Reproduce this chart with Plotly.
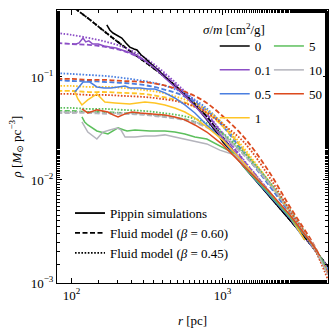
import plotly.graph_objects as go

# fluid model radii (pc)
r_model = [80, 100, 130, 170, 220, 300, 400, 550, 750, 1000, 1400, 2000, 2800, 4000, 5000]

# fluid model densities, beta = 0.60 (dashed) and beta = 0.45 (dotted)
m0_b60 = [0.625, 0.489, 0.366, 0.267, 0.200, 0.143, 0.1045, 0.0700, 0.0447, 0.0261, 0.0137, 0.00731, 0.00409, 0.00219, 0.00143]
m0_b45 = [0.625, 0.489, 0.366, 0.267, 0.200, 0.143, 0.1045, 0.0700, 0.0447, 0.0261, 0.0137, 0.00731, 0.00409, 0.00219, 0.00143]
m01_b60 = [0.214, 0.209, 0.205, 0.195, 0.179, 0.146, 0.109, 0.0714, 0.0468, 0.0280, 0.0150, 0.00800, 0.00428, 0.00219, 0.00140]
m01_b45 = [0.267, 0.256, 0.239, 0.219, 0.195, 0.156, 0.114, 0.0748, 0.0479, 0.0286, 0.0153, 0.00800, 0.00428, 0.00219, 0.00137]
m05_b60 = [0.0936, 0.0914, 0.0914, 0.0893, 0.0875, 0.0836, 0.0764, 0.0655, 0.0500, 0.0334, 0.0179, 0.00914, 0.00468, 0.00219, 0.00134]
m05_b45 = [0.109, 0.107, 0.1045, 0.102, 0.0977, 0.0914, 0.0836, 0.0700, 0.0522, 0.0350, 0.0187, 0.00957, 0.00479, 0.00224, 0.00134]
m1_b60 = [0.0731, 0.0731, 0.0714, 0.0714, 0.0700, 0.0684, 0.0640, 0.0571, 0.0468, 0.0334, 0.0191, 0.00977, 0.00489, 0.00224, 0.00128]
m1_b45 = [0.0818, 0.0818, 0.0800, 0.0800, 0.0782, 0.0748, 0.0700, 0.0611, 0.0500, 0.0357, 0.0200, 0.0100, 0.00500, 0.00224, 0.00128]
m5_b60 = [0.0468, 0.0468, 0.0457, 0.0457, 0.0447, 0.0438, 0.0418, 0.0391, 0.0342, 0.0274, 0.0175, 0.00977, 0.00500, 0.00224, 0.00122]
m5_b45 = [0.0500, 0.0500, 0.0489, 0.0489, 0.0479, 0.0468, 0.0447, 0.0418, 0.0366, 0.0286, 0.0183, 0.0100, 0.00512, 0.00229, 0.00125]
m10_b60 = [0.0447, 0.0447, 0.0447, 0.0438, 0.0438, 0.0428, 0.0409, 0.0383, 0.0334, 0.0267, 0.0171, 0.00957, 0.00500, 0.00224, 0.00122]
m10_b45 = [0.0457, 0.0457, 0.0457, 0.0447, 0.0447, 0.0438, 0.0418, 0.0391, 0.0342, 0.0274, 0.0175, 0.00977, 0.00500, 0.00224, 0.00122]
m50_b60 = [0.0957, 0.0957, 0.0936, 0.0936, 0.0914, 0.0893, 0.0836, 0.0731, 0.0585, 0.0418, 0.0256, 0.0125, 0.00547, 0.00239, 0.00122]
m50_b45 = [0.0684, 0.0684, 0.0668, 0.0668, 0.0655, 0.0640, 0.0611, 0.0560, 0.0468, 0.0350, 0.0229, 0.0112, 0.00500, 0.00224, 0.00107]

# Pippin simulation profiles
r_s0 = [171, 179, 188, 203, 215, 229, 243, 259, 271, 288, 306, 330, 356, 385, 415, 483, 563, 656, 787, 889, 1005, 1172, 1406, 1767, 2222, 2793, 3622]
rho_s0 = [0.320, 0.286, 0.267, 0.250, 0.239, 0.214, 0.195, 0.187, 0.183, 0.164, 0.153, 0.137, 0.125, 0.112, 0.100, 0.0818, 0.0668, 0.0535, 0.0383, 0.0306, 0.0234, 0.0183, 0.0131, 0.00893, 0.00611, 0.00409, 0.00261]

r_s01 = [107, 112, 119, 124, 130, 138, 150, 164, 179, 197, 215, 236, 259, 284, 315, 356, 415, 483, 563, 656, 787, 1005, 1406, 1995, 2793, 3622]
rho_s01 = [0.209, 0.214, 0.239, 0.219, 0.224, 0.209, 0.209, 0.200, 0.195, 0.191, 0.183, 0.175, 0.167, 0.156, 0.140, 0.122, 0.0977, 0.0800, 0.0655, 0.0522, 0.0391, 0.0256, 0.0140, 0.00764, 0.00428, 0.00274]

r_s05 = [105, 110, 119, 132, 147, 164, 182, 203, 226, 243, 284, 320, 356, 415, 483, 563, 656, 787, 1005, 1406, 1995, 2793, 3508]
rho_s05 = [0.0714, 0.0782, 0.0893, 0.0893, 0.0800, 0.0782, 0.0782, 0.0800, 0.0818, 0.0782, 0.0782, 0.0764, 0.0764, 0.0700, 0.0625, 0.0535, 0.0447, 0.0342, 0.0244, 0.0131, 0.00748, 0.00428, 0.00261]

r_s1 = [105, 110, 117, 128, 147, 156, 166, 194, 243, 306, 356, 415, 483, 563, 656, 787, 1005, 1406, 1995, 2793, 3508]
rho_s1 = [0.0714, 0.0611, 0.0535, 0.0598, 0.0684, 0.0625, 0.0571, 0.0560, 0.0547, 0.0571, 0.0560, 0.0535, 0.0500, 0.0457, 0.0400, 0.0327, 0.0244, 0.0143, 0.00800, 0.00447, 0.00261]

r_s5 = [117, 122, 128, 147, 174, 188, 203, 222, 233, 263, 330, 415, 483, 563, 656, 787, 960, 1172, 1406, 1995, 2793, 4027, 4764]
rho_s5 = [0.0409, 0.0366, 0.0342, 0.0299, 0.0280, 0.0299, 0.0320, 0.0306, 0.0299, 0.0306, 0.0299, 0.0299, 0.0292, 0.0280, 0.0261, 0.0250, 0.0214, 0.0183, 0.0131, 0.00764, 0.00438, 0.00229, 0.00150]

r_s10 = [117, 128, 147, 161, 179, 200, 212, 226, 263, 306, 356, 415, 483, 563, 656, 787, 960, 1208, 1406, 1995, 2793, 4027, 4989]
rho_s10 = [0.0366, 0.0292, 0.0250, 0.0292, 0.0306, 0.0320, 0.0306, 0.0261, 0.0261, 0.0267, 0.0267, 0.0274, 0.0261, 0.0250, 0.0239, 0.0224, 0.0195, 0.0175, 0.0137, 0.00800, 0.00457, 0.00234, 0.00120]

r_s50 = [117, 128, 147, 161, 174, 188, 203, 226, 251, 284, 330, 415, 483, 563, 656, 787, 1005, 1406, 1995, 2793, 4027, 4412]
rho_s50 = [0.0489, 0.0447, 0.0479, 0.0468, 0.0457, 0.0428, 0.0409, 0.0438, 0.0457, 0.0447, 0.0438, 0.0428, 0.0409, 0.0383, 0.0342, 0.0292, 0.0219, 0.0134, 0.00800, 0.00457, 0.00229, 0.00183]

labels = ["0", "0.1", "0.5", "1", "5", "10", "50"]
colors = ["#000000", "#8c4fc6", "#4a7fe0", "#ffc526", "#5cbf5c", "#b4b4bc", "#dc4a1e"]
models_b60 = [m0_b60, m01_b60, m05_b60, m1_b60, m5_b60, m10_b60, m50_b60]
models_b45 = [m0_b45, m01_b45, m05_b45, m1_b45, m5_b45, m10_b45, m50_b45]
sims = [(r_s0, rho_s0), (r_s01, rho_s01), (r_s05, rho_s05), (r_s1, rho_s1),
        (r_s5, rho_s5), (r_s10, rho_s10), (r_s50, rho_s50)]

FONT = "Liberation Serif, Times New Roman, DejaVu Serif, serif"
DASH = "5px,2.5px"
DOT = "1.6px,1.6px"

fig = go.Figure()

for i, lab in enumerate(labels):
    fig.add_trace(go.Scatter(x=r_model, y=models_b60[i], mode="lines", line_shape="spline",
                             line=dict(color=colors[i], width=1.8, dash=DASH), showlegend=False))
    fig.add_trace(go.Scatter(x=r_model, y=models_b45[i], mode="lines", line_shape="spline",
                             line=dict(color=colors[i], width=1.8, dash=DOT), showlegend=False))

for i, lab in enumerate(labels):
    r, rho = sims[i]
    fig.add_trace(go.Scatter(x=r, y=rho, mode="lines", name=lab,
                             line=dict(color=colors[i], width=1.5),
                             legend="legend" if i < 4 else "legend3",
                             legendgroup=lab))

# line style legend
for name, dash in [("Pippin simulations", "solid"),
                   ("Fluid model (<i>β</i> = 0.60)", DASH),
                   ("Fluid model (<i>β</i> = 0.45)", DOT)]:
    fig.add_trace(go.Scatter(x=[None], y=[None], mode="lines", name=name,
                             line=dict(color="black", width=1.8, dash=dash),
                             legend="legend2"))

axis_common = dict(type="log", showgrid=False, zeroline=False, showline=True,
                   linecolor="black", linewidth=1, mirror="ticks", ticks="inside",
                   ticklen=5, tickcolor="black", automargin=False,
                   minor=dict(ticks="inside", ticklen=3, tickcolor="black", showgrid=False),
                   tickfont=dict(family=FONT, size=13, color="black"))

fig.update_xaxes(range=[1.903, 3.699], tickvals=[100, 1000],
                 ticktext=["10<sup>2</sup>", "10<sup>3</sup>"],
                 title=dict(text="<i>r</i> [pc]", font=dict(family=FONT, size=13, color="black"), standoff=14),
                 **axis_common)
fig.update_yaxes(range=[-3, -0.35], tickvals=[0.001, 0.01, 0.1],
                 ticktext=["10<sup>−3</sup>", "10<sup>−2</sup>", "10<sup>−1</sup>"],
                 title=dict(text="<i>ρ</i> [<i>M</i><sub>⊙</sub> pc<sup>−3</sup>]",
                            font=dict(family=FONT, size=13, color="black"), standoff=6),
                 **axis_common)

leg_font = dict(family=FONT, size=13, color="black")
fig.update_layout(
    width=332, height=334,
    margin=dict(l=57, r=4, t=10, b=51),
    plot_bgcolor="white", paper_bgcolor="white",
    legend=dict(x=0.582, y=0.923, xanchor="left", yanchor="top", bgcolor="rgba(0,0,0,0)",
                font=leg_font, tracegroupgap=4, itemwidth=30),
    legend3=dict(x=0.782, y=0.923, xanchor="left", yanchor="top", bgcolor="rgba(0,0,0,0)",
                 font=leg_font, tracegroupgap=4, itemwidth=30),
    legend2=dict(x=0.048, y=0.311, xanchor="left", yanchor="top", bgcolor="rgba(0,0,0,0)",
                 font=leg_font, itemwidth=30),
    annotations=[dict(text="<i>σ</i>/<i>m</i> [cm<sup>2</sup>/g]", x=0.775, y=0.966,
                      xref="paper", yref="paper", showarrow=False,
                      font=dict(family=FONT, size=13, color="black"))],
)

fig.write_html("out.html", config={"displayModeBar": False},
               post_script="document.body.style.margin='0';")
